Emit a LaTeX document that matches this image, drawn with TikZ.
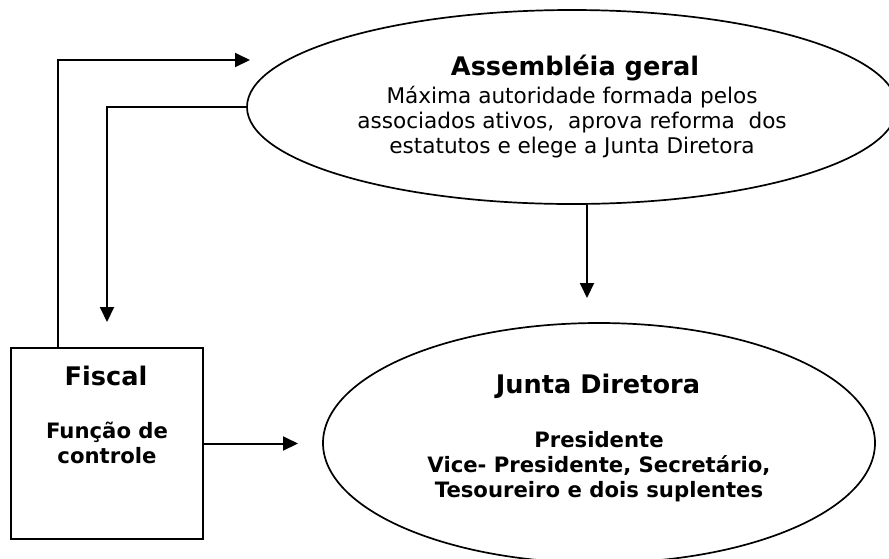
\documentclass[tikz,border=0pt]{standalone}
\usepackage{fontspec}
\setmainfont{DejaVu Sans}
\usetikzlibrary{shapes.geometric,arrows.meta}

\tikzset{
  orgellipse/.style={draw,ellipse,line width=1.7pt,inner sep=0pt},
  orgbox/.style={draw,line width=2.2pt,inner sep=0pt},
  titletext/.style={font=\fontsize{25.6}{30}\selectfont\bfseries,anchor=base,inner sep=0pt},
  bodytext/.style={font=\fontsize{21.6}{25}\selectfont,align=center,anchor=base,inner sep=0pt},
  boldtext/.style={bodytext,font=\fontsize{21.2}{25}\selectfont\bfseries},
  link/.style={line width=2pt,-{Triangle[length=15pt,width=14pt]}},
}

\begin{document}
\begin{tikzpicture}[x=1pt,y=-1pt]
  \useasboundingbox (0,0) rectangle (889,558);
  % organs
  \node[orgellipse,minimum width=650pt,minimum height=194pt] (assembleia) at (572,107) {};
  \node[orgellipse,minimum width=552pt,minimum height=240pt] (junta) at (599,443) {};
  \node[orgbox,minimum width=192pt,minimum height=191pt] (fiscal) at (107,443.5) {};
  % texts (base = last line)
  \node[titletext] (assembleiatitle) at (575,75) {Assembléia geral};
  \node[bodytext] (assembleiabody) at (572,153)
    {Máxima autoridade formada pelos\\associados ativos,\ \ aprova reforma\ \ dos\\estatutos e elege a Junta Diretora};
  \node[titletext] (juntatitle) at (598,393) {Junta Diretora};
  \node[boldtext] (juntabody) at (599,497)
    {Presidente\\Vice- Presidente, Secretário,\\Tesoureiro e dois suplentes};
  \node[titletext] (fiscaltitle) at (106,385) {Fiscal};
  \node[boldtext] (fiscalbody) at (107,463) {Função de\\controle};
  % connectors
  \coordinate (assembleiain) at (250,60);
  \coordinate (fiscalin) at (107,322);
  \coordinate (juntatop) at (587,298);
  \coordinate (juntain) at (298,443.5);
  \draw[link] ([xshift=48pt]fiscal.north west) |- (assembleiain);
  \draw[link] (assembleia.west) -| (fiscalin);
  \draw[link] (juntatop |- assembleia.south) -- (juntatop);
  \draw[link] (fiscal.east) -- (juntain);
\end{tikzpicture}
\end{document}
